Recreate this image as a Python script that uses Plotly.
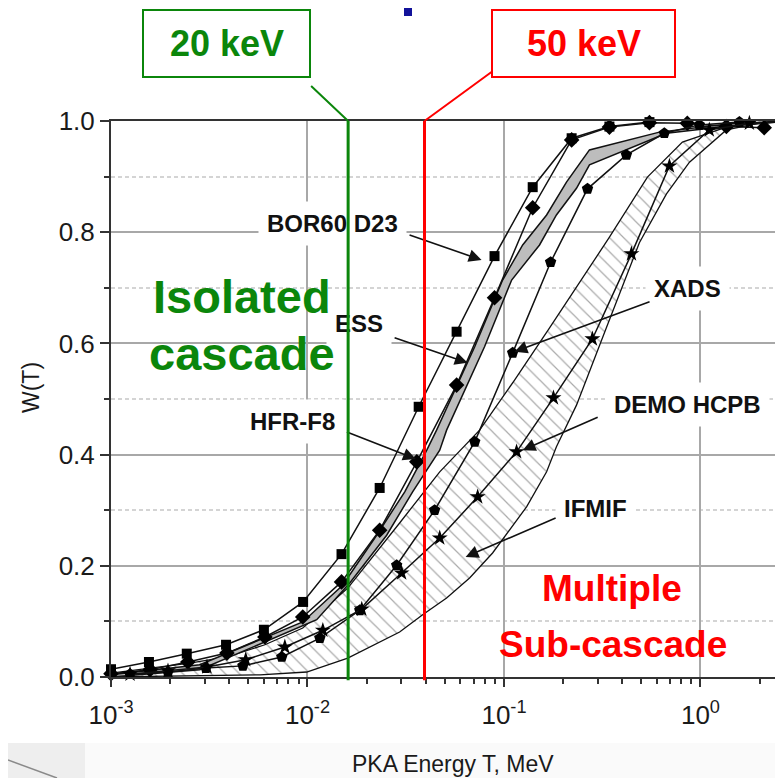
import math
import plotly.graph_objects as go

# ---------------- data (PKA energy T in MeV, W(T)) ----------------
bor60_E = [0.001, 0.00156, 0.00243, 0.00385, 0.006, 0.0095, 0.0149, 0.0233, 0.0368, 0.0574, 0.0895, 0.140, 0.221, 0.344, 0.55]
bor60_W = [0.014, 0.027, 0.042, 0.058, 0.085, 0.135, 0.221, 0.340, 0.486, 0.621, 0.757, 0.881, 0.969, 0.990, 0.998]

hfr_E = [0.001, 0.00158, 0.00246, 0.00389, 0.00607, 0.00946, 0.0149, 0.0233, 0.0360, 0.0574, 0.0895, 0.140, 0.221, 0.344, 0.55, 0.857, 1.355, 2.11]
hfr_W = [0.006, 0.013, 0.027, 0.043, 0.072, 0.108, 0.171, 0.264, 0.387, 0.525, 0.682, 0.844, 0.966, 0.989, 0.997, 0.996, 0.990, 0.988]

xads_E = [0.00125, 0.00195, 0.00304, 0.00469, 0.0074, 0.01156, 0.01846, 0.02844, 0.04436, 0.07096, 0.1107, 0.1727, 0.2661, 0.4198, 0.6547, 0.9863, 1.578]
xads_W = [0.005, 0.009, 0.016, 0.020, 0.036, 0.070, 0.120, 0.201, 0.300, 0.423, 0.583, 0.746, 0.878, 0.939, 0.978, 0.993, 0.998]

demo_E = [0.00125, 0.00195, 0.00308, 0.00485, 0.00767, 0.01197, 0.01889, 0.03013, 0.0471, 0.07345, 0.1159, 0.1786, 0.2818, 0.4453, 0.695, 1.109, 1.774]
demo_W = [0.005, 0.011, 0.018, 0.031, 0.054, 0.084, 0.122, 0.187, 0.250, 0.324, 0.405, 0.502, 0.608, 0.761, 0.919, 0.984, 0.996]

# ESS: grey band (two edges)
ess_left_E = [0.001, 0.00283, 0.00946, 0.0151, 0.02249, 0.03126, 0.04046, 0.04539, 0.07096, 0.0984, 0.1245, 0.1648, 0.208, 0.2723, 0.618, 1.403, 2.518]
ess_left_W = [0.004, 0.022, 0.099, 0.165, 0.255, 0.333, 0.408, 0.444, 0.594, 0.714, 0.777, 0.831, 0.890, 0.948, 0.980, 0.995, 0.998]
ess_right_E = [0.001, 0.00283, 0.01114, 0.01641, 0.02529, 0.03428, 0.0471, 0.05105, 0.07962, 0.1094, 0.1517, 0.1849, 0.2339, 0.2723, 0.6714, 1.403, 2.518]
ess_right_W = [0.000, 0.013, 0.103, 0.169, 0.255, 0.333, 0.408, 0.444, 0.594, 0.714, 0.777, 0.831, 0.879, 0.921, 0.978, 0.991, 0.998]

# IFMIF: hatched band (two edges)
ifmif_up_E = [0.001, 0.00158, 0.00252, 0.00389, 0.00607, 0.00946, 0.01603, 0.02944, 0.0471, 0.07516, 0.1132, 0.1706, 0.2421, 0.3441, 0.537, 0.8091, 1.355, 1.995, 2.61]
ifmif_up_W = [0.007, 0.016, 0.025, 0.036, 0.058, 0.088, 0.160, 0.277, 0.369, 0.444, 0.534, 0.628, 0.710, 0.791, 0.899, 0.962, 0.989, 0.998, 1.0]
ifmif_lo_E = [0.001, 0.00283, 0.00573, 0.00991, 0.01603, 0.02944, 0.03855, 0.05105, 0.06683, 0.0875, 0.1303, 0.1648, 0.1849, 0.2339, 0.2723, 0.3327, 0.4887, 0.6714, 0.879, 1.355, 1.995, 2.61]
ifmif_lo_W = [0.000, 0.002, 0.004, 0.009, 0.034, 0.081, 0.112, 0.142, 0.178, 0.223, 0.306, 0.369, 0.414, 0.489, 0.549, 0.629, 0.781, 0.869, 0.926, 0.984, 0.996, 1.0]

# threshold lines (MeV) and their labels
threshold_E = [0.0161, 0.0394]
threshold_labels = ["20 keV", "50 keV"]

# axis ticks
x_tickvals = [0.001, 0.01, 0.1, 1.0]
x_ticktext = ["10<sup>-3</sup>", "10<sup>-2</sup>", "10<sup>-1</sup>", "10<sup>0</sup>"]
x_minor = [m * 10.0 ** d for d in range(-3, 1) for m in range(2, 10)]
y_tickvals = [0.0, 0.2, 0.4, 0.6, 0.8, 1.0]
y_ticktext = ["0.0", "0.2", "0.4", "0.6", "0.8", "1.0"]
y_minor = [0.1, 0.3, 0.5, 0.7, 0.9]

# ---------------- layout geometry helpers ----------------
# the page body has an 8px margin, so the figure is drawn 8px down/right
BODY = 8
W_PX, H_PX = 783 - BODY, 778 - BODY
ML, MR, MT, MB = 111 - BODY, 0, 121 - BODY, 101
PW = W_PX - ML - MR
PH = H_PX - MT - MB
FONT = "Liberation Sans, Arial, Helvetica, sans-serif"
GREEN = "#0b860b"
RED = "#ff0000"


def pxx(x):
    # page pixel x -> paper coordinate
    return (x - BODY - ML) / PW


def pxy(y):
    # page pixel y -> paper coordinate
    return (H_PX - MB - (y - BODY)) / PH


fig = go.Figure()

# IFMIF hatched band
fig.add_trace(go.Scatter(
    x=ifmif_up_E + ifmif_lo_E[::-1], y=ifmif_up_W + ifmif_lo_W[::-1],
    mode="lines", fill="toself", fillcolor="#ffffff",
    fillpattern=dict(shape="\\", fgcolor="#555555", bgcolor="#ffffff", size=10, solidity=0.12),
    line=dict(color="#111111", width=1.3), hoverinfo="skip", showlegend=False))

# ESS grey band
fig.add_trace(go.Scatter(
    x=ess_left_E + ess_right_E[::-1], y=ess_left_W + ess_right_W[::-1],
    mode="lines", fill="toself", fillcolor="#bdbdbd",
    line=dict(color="#111111", width=1.5), hoverinfo="skip", showlegend=False))

series = [
    (bor60_E, bor60_W, "square", 10),
    (hfr_E, hfr_W, "diamond", 12),
    (xads_E, xads_W, "pentagon", 12),
    (demo_E, demo_W, "star", 12),
]
for ex, wy, sym, sz in series:
    fig.add_trace(go.Scatter(
        x=ex, y=wy, mode="lines+markers",
        line=dict(color="#111111", width=1.5),
        marker=dict(symbol=sym, size=sz, color="#000000", line=dict(width=0)),
        cliponaxis=False, hoverinfo="skip", showlegend=False))

ann = []

# series labels (white background) and their arrows
labels = [
    ("BOR60 D23", 332, 223, 0.0769, 0.750, -72, -25),
    ("ESS", 359, 323, 0.0653, 0.565, -73, -25),
    ("HFR-F8", 292, 421, 0.0356, 0.392, -69, -27),
    ("XADS", 687, 288, 0.1132, 0.585, 135, -50),
    ("DEMO HCPB", 687, 405, 0.1245, 0.408, 75, -33),
    ("IFMIF", 595, 508, 0.0638, 0.216, 90, -39),
]
for txt, lx, ly, tipE, tipW, dx, dy in labels:
    ann.append(dict(xref="paper", yref="paper", x=pxx(lx), y=pxy(ly), text="<b>%s</b>" % txt,
                    showarrow=False, font=dict(family=FONT, size=24, color="#111111"),
                    bgcolor="#ffffff", borderpad=8, xanchor="center", yanchor="middle"))
for txt, lx, ly, tipE, tipW, dx, dy in labels:
    ann.append(dict(xref="x", yref="y", x=math.log10(tipE), y=tipW, text="",
                    showarrow=True, arrowhead=2, arrowsize=1.6, arrowwidth=1.6,
                    arrowcolor="#111111", ax=dx, ay=dy, borderpad=0, borderwidth=0))

# threshold vertical lines + connectors
conn = [(-37, -35), (67, -49)]
for e, col, (cx, cy) in zip(threshold_E, [GREEN, RED], conn):
    le = math.log10(e)
    ann.append(dict(xref="x", yref="y", axref="x", ayref="y", x=le, y=-0.006, ax=le, ay=1.0,
                    text="", showarrow=True, arrowhead=0, arrowwidth=3, arrowcolor=col,
                    borderpad=0, borderwidth=0, standoff=0, startstandoff=0))
    ann.append(dict(xref="x", yref="y", x=le, y=1.0, ax=cx, ay=cy,
                    text="", showarrow=True, arrowhead=0, arrowwidth=2, arrowcolor=col,
                    borderpad=0, borderwidth=0, standoff=0, startstandoff=0))

# boxes with energies
box_px = [(143, 10, 310, 77), (492, 10, 675, 77)]
shapes = []
for (x0, y0, x1, y1), col, txt in zip(box_px, [GREEN, RED], threshold_labels):
    shapes.append(dict(type="rect", xref="paper", yref="paper",
                       x0=pxx(x0), x1=pxx(x1), y0=pxy(y1), y1=pxy(y0),
                       line=dict(color=col, width=2), fillcolor="#ffffff", layer="above"))
    ann.append(dict(xref="paper", yref="paper", x=pxx((x0 + x1) / 2), y=pxy(44),
                    text="<b>%s</b>" % txt, showarrow=False,
                    font=dict(family=FONT, size=36, color=col), xanchor="center", yanchor="middle"))

# region texts
for txt, lx, ly, sz, col in [("Isolated", 242, 296, 47, GREEN), ("cascade", 242, 353, 47, GREEN),
                             ("Multiple", 612, 588, 37, RED), ("Sub-cascade", 613, 644, 37, RED)]:
    ann.append(dict(xref="paper", yref="paper", x=pxx(lx), y=pxy(ly), text="<b>%s</b>" % txt,
                    showarrow=False, font=dict(family=FONT, size=sz, color=col),
                    xanchor="center", yanchor="middle"))

# axis titles
ann.append(dict(xref="paper", yref="paper", x=pxx(453), y=pxy(764), text="PKA Energy T, MeV",
                showarrow=False, font=dict(family=FONT, size=23, color="#1a1a1a"),
                xanchor="center", yanchor="middle"))
ann.append(dict(xref="paper", yref="paper", x=pxx(31), y=pxy(388), text="W(T)", textangle=-90,
                showarrow=False, font=dict(family=FONT, size=23, color="#1a1a1a"),
                xanchor="center", yanchor="middle"))

# background fragments of the original slide
shapes.append(dict(type="rect", xref="paper", yref="paper", x0=pxx(404), x1=pxx(412), y0=pxy(16), y1=pxy(8),
                   line=dict(width=0), fillcolor="#12129a", layer="above"))
shapes.append(dict(type="rect", xref="paper", yref="paper", x0=pxx(85), x1=pxx(783), y0=pxy(778), y1=pxy(743),
                   line=dict(width=0), fillcolor="#fafafa", layer="below"))
shapes.append(dict(type="rect", xref="paper", yref="paper", x0=pxx(8), x1=pxx(85), y0=pxy(778), y1=pxy(743),
                   line=dict(width=0), fillcolor="#eeeeee", layer="below"))
shapes.append(dict(type="line", xref="paper", yref="paper", x0=pxx(8), x1=pxx(57), y0=pxy(760), y1=pxy(778),
                   line=dict(color="#8a8a8a", width=1.5), layer="below"))

fig.update_layout(
    width=W_PX, height=H_PX,
    margin=dict(l=ML, r=MR, t=MT, b=MB, pad=0, autoexpand=False),
    paper_bgcolor="#ffffff", plot_bgcolor="#ffffff",
    font=dict(family=FONT, color="#1a1a1a"),
    showlegend=False,
    annotations=ann, shapes=shapes,
    xaxis=dict(type="log", range=[-3, 0.42], tickvals=x_tickvals, ticktext=x_ticktext,
               ticks="outside", ticklen=8, tickwidth=2, tickcolor="#333333",
               showline=True, linecolor="#333333", linewidth=2, mirror=True,
               showgrid=True, gridcolor="#a8a8a8", gridwidth=2, zeroline=False,
               ticklabelstandoff=6,
               tickfont=dict(family=FONT, size=26, color="#1a1a1a"),
               minor=dict(tickvals=x_minor, ticks="outside", ticklen=5, tickwidth=1.5,
                          tickcolor="#333333", showgrid=False)),
    yaxis=dict(range=[0, 1], tickvals=y_tickvals, ticktext=y_ticktext,
               ticks="outside", ticklen=9, tickwidth=2, tickcolor="#333333",
               showline=True, linecolor="#333333", linewidth=2,
               showgrid=True, gridcolor="#a8a8a8", gridwidth=2, zeroline=False,
               tickfont=dict(family=FONT, size=26, color="#1a1a1a"),
               minor=dict(tickvals=y_minor, ticks="outside", ticklen=5, tickwidth=1.5,
                          tickcolor="#333333", showgrid=True, gridcolor="#d4d4d4",
                          gridwidth=1.5, griddash="4px,3px")),
)

fig.write_html("out.html")
